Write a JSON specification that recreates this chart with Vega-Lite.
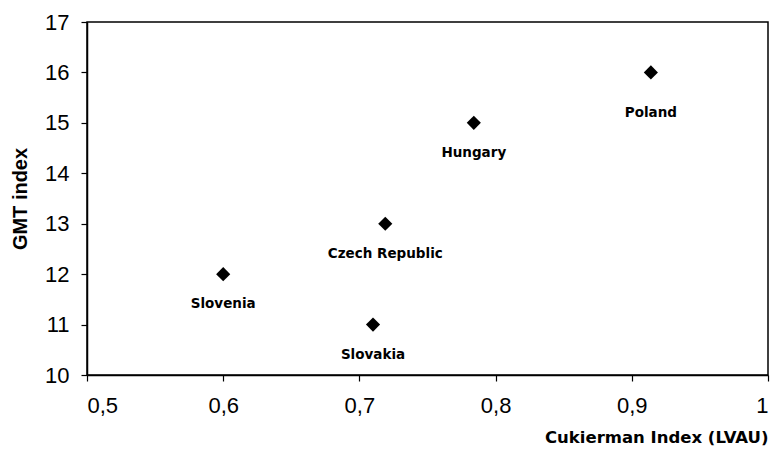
{
  "$schema": "https://vega.github.io/schema/vega-lite/v6.json",
  "autosize": {"type": "none"},
  "width": 681,
  "height": 353,
  "padding": {"left": 87, "top": 22, "right": 5, "bottom": 76},
  "background": "white",
  "config": {
    "view": {"stroke": "black", "strokeWidth": 1.5}
  },
  "data": {"values": [
    {"country": "Slovenia", "cuk": 0.6, "gmt": 12},
    {"country": "Slovakia", "cuk": 0.71, "gmt": 11},
    {"country": "Czech Republic", "cuk": 0.719, "gmt": 13},
    {"country": "Hungary", "cuk": 0.784, "gmt": 15},
    {"country": "Poland", "cuk": 0.914, "gmt": 16}
  ]},
  "encoding": {
    "x": {"field": "cuk", "type": "quantitative", "scale": {"domain": [0.5, 1], "nice": false, "zero": false},
      "axis": {"grid": false, "domainColor": "black", "tickColor": "black", "domainWidth": 1.5, "tickWidth": 1.2, "tickSize": 6, "labelColor": "black", "titleColor": "black", "labelFont": "Liberation Sans", "labelFontSize": 22, "values": [0.5, 0.6, 0.7, 0.8, 0.9, 1], "labelExpr": "datum.value == 1 ? '1' : replace(format(datum.value, '.1f'), '.', ',')", "labelPadding": 14, "title": "Cukierman Index (LVAU)", "titleFont": "DejaVu Sans", "titleAnchor": "end", "titleFontSize": 16.5, "titleFontWeight": "bold", "titlePadding": 13}},
    "y": {"field": "gmt", "type": "quantitative", "scale": {"domain": [10, 17], "nice": false, "zero": false},
      "axis": {"grid": false, "domainColor": "black", "tickColor": "black", "domainWidth": 1.5, "tickWidth": 1.2, "tickSize": 6, "labelColor": "black", "titleColor": "black", "labelFont": "Liberation Sans", "labelFontSize": 22, "values": [10, 11, 12, 13, 14, 15, 16, 17], "labelPadding": 12, "title": "GMT index", "titleFont": "Liberation Sans", "titleFontSize": 20, "titleFontWeight": "bold", "titlePadding": 14}}
  },
  "layer": [
    {"mark": {"type": "point", "shape": "diamond", "filled": true, "color": "black", "opacity": 1, "size": 200}},
    {"transform": [{"filter": "datum.country != 'Poland'"}],
     "mark": {"type": "text", "dy": 30, "font": "DejaVu Sans", "fontWeight": "bold", "fontSize": 13.5, "color": "black"},
     "encoding": {"text": {"field": "country"}}},
    {"transform": [{"filter": "datum.country == 'Poland'"}],
     "mark": {"type": "text", "dy": 41, "font": "DejaVu Sans", "fontWeight": "bold", "fontSize": 13.5, "color": "black"},
     "encoding": {"text": {"field": "country"}}}
  ]
}
